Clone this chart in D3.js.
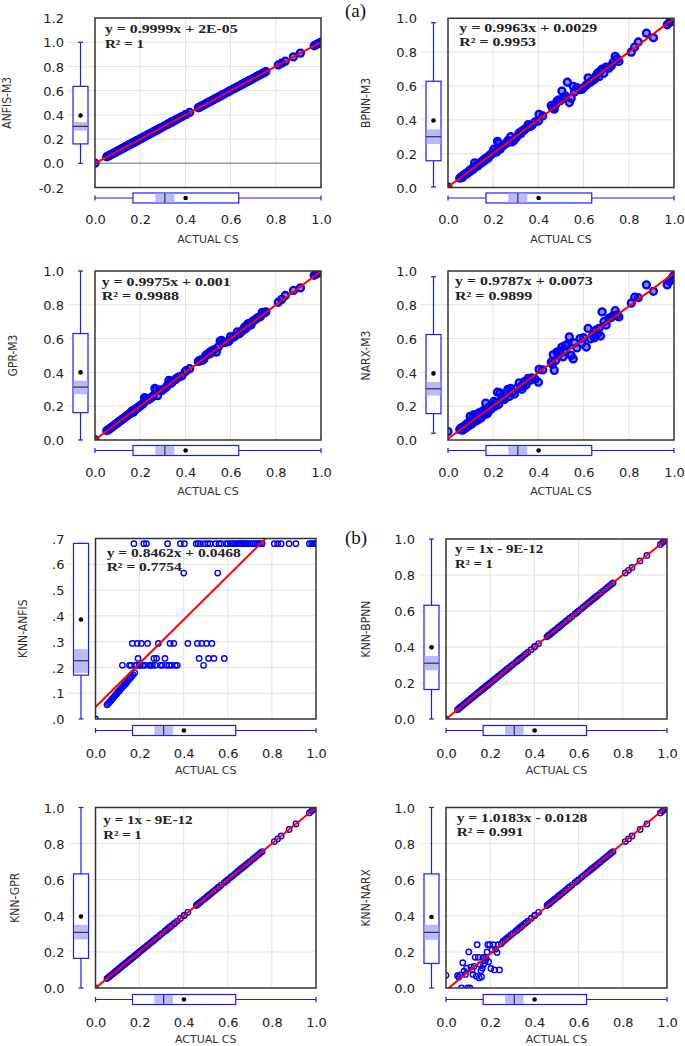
<!DOCTYPE html>
<html><head><meta charset="utf-8">
<script src="https://cdn.jsdelivr.net/npm/d3@7"></script>
<style>body{margin:0;background:#fff}svg{display:block}</style>
</head><body>
<svg id="c" width="685" height="1046"></svg>
<script>
// ---------- DATA ----------
const actualCS = [
0.000,0.052,0.058,0.064,0.070,0.076,0.082,0.088,0.093,0.098,
0.103,0.108,0.113,0.118,0.122,0.127,0.132,0.137,0.141,0.146,
0.150,0.154,0.158,0.161,0.164,0.167,0.170,0.174,0.178,0.182,
0.186,0.189,0.193,0.198,0.203,0.208,0.214,0.219,0.224,0.231,
0.236,0.242,0.250,0.258,0.265,0.271,0.277,0.285,0.294,0.303,
0.315,0.322,0.327,0.334,0.338,0.345,0.355,0.362,0.371,0.385,
0.400,0.403,0.419,0.457,0.462,0.470,0.482,0.490,0.504,0.513,
0.528,0.537,0.554,0.584,0.612,0.640,0.648,0.655,0.662,0.668,
0.675,0.682,0.690,0.700,0.712,0.722,0.731,0.740,0.748,0.756,
0.811,0.826,0.842,0.878,0.909,0.970,0.980,0.988,0.994,1.000,
0.466,0.476,0.495,0.509,0.520,0.545,0.560,0.570,0.592,0.600,0.620,0.630];

const anfisM3 = [
0.001,0.054,0.059,0.065,0.071,0.077,0.083,0.088,0.094,0.099,
0.104,0.109,0.114,0.118,0.123,0.128,0.133,0.138,0.142,0.147,
0.151,0.155,0.159,0.162,0.165,0.168,0.171,0.175,0.179,0.183,
0.187,0.190,0.194,0.199,0.204,0.209,0.215,0.220,0.225,0.232,
0.237,0.243,0.251,0.259,0.266,0.272,0.278,0.286,0.295,0.304,
0.316,0.323,0.328,0.335,0.339,0.346,0.356,0.363,0.372,0.386,
0.401,0.404,0.420,0.458,0.463,0.471,0.483,0.491,0.505,0.514,
0.529,0.538,0.555,0.585,0.613,0.641,0.649,0.656,0.663,0.669,
0.676,0.683,0.691,0.701,0.713,0.723,0.732,0.741,0.749,0.757,
0.812,0.827,0.843,0.879,0.910,0.971,0.981,0.989,0.995,1.000,
0.467,0.477,0.496,0.510,0.521,0.546,0.561,0.571,0.593,0.601,0.621,0.631];

const bpnnM3 = [
0.003,0.055,0.062,0.060,0.074,0.080,0.079,0.092,0.090,0.103,
0.101,0.113,0.110,0.146,0.125,0.131,0.128,0.140,0.145,0.143,
0.154,0.151,0.163,0.166,0.161,0.172,0.168,0.178,0.175,0.186,
0.190,0.195,0.198,0.205,0.226,0.211,0.209,0.273,0.262,0.227,
0.240,0.246,0.254,0.262,0.278,0.268,0.300,0.270,0.283,0.297,
0.322,0.318,0.333,0.337,0.342,0.350,0.372,0.360,0.366,0.388,
0.393,0.432,0.423,0.485,0.472,0.463,0.510,0.518,0.570,0.530,
0.622,0.502,0.598,0.578,0.605,0.632,0.640,0.660,0.676,0.655,
0.690,0.700,0.675,0.712,0.705,0.718,0.740,0.775,0.760,0.745,
0.800,0.830,0.860,0.912,0.885,0.962,0.975,0.982,0.990,0.985,
0.470,0.490,0.512,0.525,0.540,0.528,0.565,0.590,0.580,0.590,0.648,0.622];

const gprM3 = [
0.002,0.056,0.060,0.066,0.071,0.078,0.083,0.089,0.095,0.099,
0.105,0.109,0.114,0.120,0.124,0.128,0.134,0.139,0.142,0.148,
0.152,0.156,0.160,0.163,0.172,0.170,0.165,0.176,0.180,0.184,
0.188,0.192,0.196,0.200,0.205,0.210,0.216,0.250,0.246,0.240,
0.238,0.244,0.252,0.262,0.305,0.300,0.262,0.296,0.292,0.300,
0.312,0.325,0.352,0.340,0.336,0.350,0.357,0.366,0.373,0.380,
0.405,0.410,0.422,0.465,0.470,0.475,0.480,0.500,0.515,0.525,
0.535,0.520,0.585,0.580,0.608,0.630,0.642,0.650,0.668,0.660,
0.685,0.690,0.680,0.705,0.715,0.726,0.730,0.755,0.752,0.758,
0.815,0.832,0.855,0.885,0.900,0.975,0.982,0.992,0.996,0.998,
0.470,0.472,0.505,0.510,0.528,0.550,0.590,0.576,0.585,0.612,0.615,0.640];

const narxM3 = [
0.050,0.062,0.072,0.058,0.081,0.068,0.095,0.080,0.105,0.140,
0.092,0.125,0.148,0.108,0.135,0.152,0.118,0.160,0.142,0.130,
0.168,0.148,0.175,0.150,0.160,0.218,0.172,0.155,0.190,0.176,
0.198,0.180,0.205,0.192,0.228,0.200,0.222,0.283,0.210,0.278,
0.238,0.250,0.240,0.268,0.300,0.258,0.305,0.285,0.272,0.305,
0.338,0.315,0.300,0.330,0.345,0.325,0.365,0.352,0.368,0.360,
0.342,0.418,0.415,0.462,0.448,0.412,0.520,0.505,0.550,0.525,
0.565,0.610,0.480,0.600,0.550,0.618,0.605,0.650,0.630,0.660,
0.615,0.758,0.700,0.680,0.720,0.725,0.735,0.765,0.740,0.728,
0.810,0.845,0.842,0.918,0.880,0.918,0.940,0.952,0.962,0.975,
0.505,0.470,0.528,0.492,0.560,0.500,0.575,0.545,0.572,0.605,0.660,0.598];

const knnAnfis = [
0.000,0.055,0.060,0.066,0.072,0.078,0.084,0.090,0.095,0.100,
0.105,0.110,0.115,0.120,0.208,0.128,0.133,0.138,0.142,0.147,
0.151,0.208,0.159,0.208,0.165,0.293,0.172,0.680,0.179,0.208,
0.208,0.293,0.235,0.208,0.208,0.293,0.208,0.680,0.208,0.680,
0.293,0.208,0.208,0.208,0.235,0.208,0.235,0.293,0.208,0.208,
0.235,0.208,0.680,0.208,0.293,0.208,0.293,0.208,0.208,0.680,
0.566,0.680,0.293,0.680,0.293,0.235,0.293,0.208,0.293,0.235,
0.293,0.235,0.566,0.235,0.680,0.680,0.680,0.680,0.680,0.680,
0.680,0.680,0.680,0.680,0.680,0.680,0.680,0.680,0.680,0.680,
0.680,0.680,0.680,0.680,0.680,0.680,0.680,0.680,0.680,0.680,
0.680,0.680,0.680,0.680,0.680,0.680,0.680,0.680,0.680,0.680,0.680,0.680];

const knnBpnn = [
0.000,0.052,0.058,0.064,0.070,0.076,0.082,0.088,0.093,0.098,
0.103,0.108,0.113,0.118,0.122,0.127,0.132,0.137,0.141,0.146,
0.150,0.154,0.158,0.161,0.164,0.167,0.170,0.174,0.178,0.182,
0.186,0.189,0.193,0.198,0.203,0.208,0.214,0.219,0.224,0.231,
0.236,0.242,0.250,0.258,0.265,0.271,0.277,0.285,0.294,0.303,
0.315,0.322,0.327,0.334,0.338,0.345,0.355,0.362,0.371,0.385,
0.400,0.403,0.419,0.457,0.462,0.470,0.482,0.490,0.504,0.513,
0.528,0.537,0.554,0.584,0.612,0.640,0.648,0.655,0.662,0.668,
0.675,0.682,0.690,0.700,0.712,0.722,0.731,0.740,0.748,0.756,
0.811,0.826,0.842,0.878,0.909,0.970,0.980,0.988,0.994,1.000,
0.466,0.476,0.495,0.509,0.520,0.545,0.560,0.570,0.592,0.600,0.620,0.630];

const knnGpr = [
0.000,0.052,0.058,0.064,0.070,0.076,0.082,0.088,0.093,0.098,
0.103,0.108,0.113,0.118,0.122,0.127,0.132,0.137,0.141,0.146,
0.150,0.154,0.158,0.161,0.164,0.167,0.170,0.174,0.178,0.182,
0.186,0.189,0.193,0.198,0.203,0.208,0.214,0.219,0.224,0.231,
0.236,0.242,0.250,0.258,0.265,0.271,0.277,0.285,0.294,0.303,
0.315,0.322,0.327,0.334,0.338,0.345,0.355,0.362,0.371,0.385,
0.400,0.403,0.419,0.457,0.462,0.470,0.482,0.490,0.504,0.513,
0.528,0.537,0.554,0.584,0.612,0.640,0.648,0.655,0.662,0.668,
0.675,0.682,0.690,0.700,0.712,0.722,0.731,0.740,0.748,0.756,
0.811,0.826,0.842,0.878,0.909,0.970,0.980,0.988,0.994,1.000,
0.466,0.476,0.495,0.509,0.520,0.545,0.560,0.570,0.592,0.600,0.620,0.630];

const knnNarx = [
0.070,0.068,0.060,0.072,0.000,0.140,0.093,0.075,0.110,0.000,
0.200,0.000,0.116,0.100,0.075,0.120,0.170,0.065,0.240,0.170,
0.056,0.130,0.095,0.062,0.110,0.170,0.130,0.170,0.150,0.165,
0.200,0.240,0.145,0.240,0.108,0.210,0.240,0.100,0.215,0.196,
0.240,0.100,0.245,0.258,0.265,0.271,0.277,0.285,0.294,0.303,
0.315,0.322,0.327,0.334,0.338,0.345,0.355,0.362,0.371,0.385,
0.400,0.403,0.419,0.457,0.462,0.470,0.482,0.490,0.504,0.513,
0.528,0.537,0.554,0.584,0.612,0.640,0.648,0.655,0.662,0.668,
0.675,0.682,0.690,0.700,0.712,0.722,0.731,0.740,0.748,0.756,
0.811,0.826,0.842,0.878,0.909,0.970,0.980,0.988,0.994,1.000,
0.466,0.476,0.495,0.509,0.520,0.545,0.560,0.570,0.592,0.600,0.620,0.630];

const modelNames = ["ANFIS-M3","BPNN-M3","GPR-M3","NARX-M3","KNN-ANFIS","KNN-BPNN","KNN-GPR","KNN-NARX"];
const predictions = [anfisM3,bpnnM3,gprM3,narxM3,knnAnfis,knnBpnn,knnGpr,knnNarx];
const slopes = [0.9999,0.9963,0.9975,0.9787,0.8462,1,1,1.0183];
const intercepts = [0.00002,0.0029,0.001,0.0073,0.0468,-9e-12,-9e-12,-0.0128];
const eqLabels = ["y = 0.9999x + 2E-05","y = 0.9963x + 0.0029","y = 0.9975x + 0.001","y = 0.9787x + 0.0073",
  "y = 0.8462x + 0.0468","y = 1x - 9E-12","y = 1x - 9E-12","y = 1.0183x - 0.0128"];
const r2Labels = ["R² = 1","R² = 0.9953","R² = 0.9988","R² = 0.9899","R² = 0.7754","R² = 1","R² = 1","R² = 0.991"];
const xTicks = [0,0.2,0.4,0.6,0.8,1.0];
const xTickLabels = ["0.0","0.2","0.4","0.6","0.8","1.0"];
const yTicksWide = [-0.2,0,0.2,0.4,0.6,0.8,1.0,1.2];
const yTickLabelsWide = ["-0.2","0.0","0.2","0.4","0.6","0.8","1.0","1.2"];
const yTicksUnit = [0,0.2,0.4,0.6,0.8,1.0];
const yTickLabelsUnit = ["0.0","0.2","0.4","0.6","0.8","1.0"];
const yTicksSeven = [0,0.1,0.2,0.3,0.4,0.5,0.6,0.7];
const yTickLabelsSeven = [".0",".1",".2",".3",".4",".5",".6",".7"];
// box stats: [min, q1, median, q3, max, mean, ciLow, ciHigh]
const actualBox = [0,0.168,0.309,0.636,1.0,0.401,0.267,0.351];
const predBoxes = [
  [0,0.160,0.305,0.635,1.0,0.395,0.270,0.340],
  [0.003,0.158,0.300,0.628,0.974,0.396,0.257,0.343],
  [0,0.162,0.313,0.630,1.0,0.400,0.271,0.351],
  [0.040,0.156,0.303,0.624,0.966,0.394,0.263,0.343],
  [0,0.170,0.226,0.681,0.681,0.386,0.179,0.271],
  [0,0.164,0.310,0.632,1.0,0.398,0.271,0.350],
  [0,0.164,0.308,0.632,1.0,0.396,0.269,0.350],
  [0,0.136,0.308,0.632,1.0,0.393,0.267,0.350]];
const panelLabels = ["(a)","(b)"];

// ---------- LAYOUT ----------
const layout = [
 {L:95, R:321,T:18,  B:187.5,ylx:7,    ex:105,  eb:33.3, ew:132.7,rw:39,  top:true},
 {L:448,R:674,T:18.3,B:187.5,ylx:366,  ex:459.3,eb:31.7, ew:138,  rw:76.7,top:true},
 {L:95, R:321,T:271, B:440,  ylx:12.5, ex:101.7,eb:285.7,ew:129,  rw:77.3,top:true},
 {L:448,R:674,T:271, B:440,  ylx:366,  ex:455,  eb:285,  ew:137.7,rw:77.3,top:true},
 {L:95.5,R:316,T:538.5,B:719,ylx:22.5, ex:106.7,eb:556.7,ew:134,  rw:75,  top:false},
 {L:446,R:667,T:539, B:719,  ylx:366,  ex:455,  eb:553.3,ew:88.3, rw:37.7,top:false},
 {L:95.5,R:316,T:807.5,B:988,ylx:14.5, ex:103.3,eb:824,  ew:89.3, rw:38.4,top:false},
 {L:446,R:667,T:807.5,B:988, ylx:366,  ex:456.7,eb:821.7,ew:130.7,rw:66.7,top:false}];

const BLUE = "#1a1aff", CI = "#b9b9fb";
const svg = d3.select("#c");
const defs = svg.append("defs");

modelNames.forEach((name, i) => {
  const lay = layout[i];
  let yTicks = yTicksUnit, yLabels = yTickLabelsUnit, yDom = [0,1];
  if (i === 0) { yTicks = yTicksWide; yLabels = yTickLabelsWide; yDom = [-0.2,1.2]; }
  if (i === 4) { yTicks = yTicksSeven; yLabels = yTickLabelsSeven; yDom = [0,0.7]; }
  const x = d3.scaleLinear().domain([0,1]).range([lay.L, lay.R]);
  const y = d3.scaleLinear().domain(yDom).range([lay.B, lay.T]);
  const g = svg.append("g");
  const boxOff = lay.top ? 10.5 : 11.5;
  const tickOff = lay.top ? 36.5 : 38.5;
  const titleOff = lay.top ? 18.5 : 16;

  // grid
  g.append("g").selectAll("line").data(xTicks.filter(v => v > 0 && v < 1)).join("line")
    .attr("x1", d => x(d)).attr("x2", d => x(d)).attr("y1", lay.T).attr("y2", lay.B)
    .attr("stroke", "#e3e3e3").attr("stroke-width", 1);
  g.append("g").selectAll("line").data(yTicks.filter(v => v > yDom[0] && v < yDom[1] && v !== 0)).join("line")
    .attr("x1", lay.L - 27).attr("x2", lay.R).attr("y1", d => y(d)).attr("y2", d => y(d))
    .attr("stroke", "#e3e3e3").attr("stroke-width", 1);
  if (i === 0) {
    g.append("line").attr("x1", lay.L).attr("x2", lay.R).attr("y1", y(0)).attr("y2", y(0))
      .attr("stroke", "#9a9a9a").attr("stroke-width", 1.6);
  }

  // axes (labels only)
  const ya = d3.axisLeft(y).tickValues(yTicks).tickFormat((d, k) => yLabels[k]).tickSize(0).tickPadding(0);
  const yg = g.append("g").attr("transform", `translate(${lay.L - 31},0)`).call(ya);
  yg.select(".domain").remove();
  yg.attr("font-family", "'DejaVu Sans', Verdana, sans-serif").attr("font-size", 13);
  yg.selectAll("text").attr("fill", "#222").attr("dy", "0.36em");
  const xa = d3.axisBottom(x).tickValues(xTicks).tickFormat((d, k) => xTickLabels[k]).tickSize(0).tickPadding(0);
  const xg = g.append("g").attr("transform", `translate(0,${lay.B + tickOff})`).call(xa);
  xg.select(".domain").remove();
  xg.attr("font-family", "'DejaVu Sans', Verdana, sans-serif").attr("font-size", 13);
  xg.selectAll("text").attr("fill", "#222").attr("y", 0).attr("dy", 0);

  // axis titles
  g.append("text").attr("transform", `translate(${lay.ylx},${(lay.T + lay.B) / 2}) rotate(-90)`)
    .attr("text-anchor", "middle").attr("dy", "0.36em")
    .attr("font-family", "'Liberation Sans Narrow','Arial Narrow','DejaVu Sans Condensed',sans-serif")
    .attr("font-size", 12).attr("fill", "#333").text(name);
  g.append("text").attr("x", (lay.L + lay.R) / 2).attr("y", lay.B + tickOff + titleOff)
    .attr("text-anchor", "middle").attr("font-family", "'DejaVu Sans', Verdana, sans-serif")
    .attr("font-size", 11).attr("fill", "#333").text("ACTUAL CS");

  // vertical box plot (predicted)
  const pb = predBoxes[i];
  const bx0 = lay.L - 22, bx1 = lay.L - 7, bxc = (bx0 + bx1) / 2;
  const vb = g.append("g");
  vb.append("line").attr("x1", bxc).attr("x2", bxc).attr("y1", y(pb[0])).attr("y2", y(pb[1])).attr("stroke", BLUE).attr("stroke-width", 1.2);
  vb.append("line").attr("x1", bxc).attr("x2", bxc).attr("y1", y(pb[3])).attr("y2", y(pb[4])).attr("stroke", BLUE).attr("stroke-width", 1.2);
  [pb[0], pb[4]].forEach(v => vb.append("line").attr("x1", bxc - 2.5).attr("x2", bxc + 2.5).attr("y1", y(v)).attr("y2", y(v)).attr("stroke", BLUE).attr("stroke-width", 1.2));
  vb.append("rect").attr("x", bx0).attr("width", bx1 - bx0).attr("y", y(pb[3])).attr("height", y(pb[1]) - y(pb[3]))
    .attr("fill", "#fff").attr("stroke", BLUE).attr("stroke-width", 1.2);
  vb.append("rect").attr("x", bx0 + 0.6).attr("width", bx1 - bx0 - 1.2).attr("y", y(pb[7])).attr("height", y(pb[6]) - y(pb[7])).attr("fill", CI);
  vb.append("line").attr("x1", bx0).attr("x2", bx1).attr("y1", y(pb[2])).attr("y2", y(pb[2])).attr("stroke", "#333").attr("stroke-width", 1.2);
  vb.append("circle").attr("cx", bxc).attr("cy", y(pb[5])).attr("r", 2.3).attr("fill", "#000");

  // horizontal box plot (actual)
  const ab = actualBox;
  const hyc = lay.B + boxOff, hy0 = hyc - 5, hy1 = hyc + 5;
  const hb = g.append("g");
  hb.append("line").attr("y1", hyc).attr("y2", hyc).attr("x1", x(ab[0])).attr("x2", x(ab[1])).attr("stroke", BLUE).attr("stroke-width", 1.2);
  hb.append("line").attr("y1", hyc).attr("y2", hyc).attr("x1", x(ab[3])).attr("x2", x(ab[4])).attr("stroke", BLUE).attr("stroke-width", 1.2);
  [ab[0], ab[4]].forEach(v => hb.append("line").attr("y1", hyc - 2.5).attr("y2", hyc + 2.5).attr("x1", x(v)).attr("x2", x(v)).attr("stroke", BLUE).attr("stroke-width", 1.2));
  hb.append("rect").attr("y", hy0).attr("height", hy1 - hy0).attr("x", x(ab[1])).attr("width", x(ab[3]) - x(ab[1]))
    .attr("fill", "#fff").attr("stroke", BLUE).attr("stroke-width", 1.2);
  hb.append("rect").attr("y", hy0 + 0.6).attr("height", hy1 - hy0 - 1.2).attr("x", x(ab[6])).attr("width", x(ab[7]) - x(ab[6])).attr("fill", CI);
  hb.append("line").attr("y1", hy0).attr("y2", hy1).attr("x1", x(ab[2])).attr("x2", x(ab[2])).attr("stroke", "#333").attr("stroke-width", 1.2);
  hb.append("circle").attr("cy", hyc).attr("cx", x(ab[5])).attr("r", 2.3).attr("fill", "#000");

  // clip
  const cid = "clip" + i;
  defs.append("clipPath").attr("id", cid).append("rect")
    .attr("x", lay.L).attr("y", lay.T).attr("width", lay.R - lay.L).attr("height", lay.B - lay.T);

  // points
  const pts = actualCS.map((a, k) => [a, predictions[i][k]]);
  g.append("g").attr("clip-path", `url(#${cid})`).selectAll("circle").data(pts).join("circle")
    .attr("cx", d => x(d[0])).attr("cy", d => y(d[1]))
    .attr("r", lay.top ? 3.5 : 2.7)
    .attr("fill", "#0000ff").attr("fill-opacity", lay.top ? 0.45 : 0)
    .attr("stroke", "#0000ff").attr("stroke-width", lay.top ? 2.3 : 1.4);

  // regression line
  const lineGen = d3.line().x(d => x(d)).y(d => y(slopes[i] * d + intercepts[i]));
  g.append("path").attr("clip-path", `url(#${cid})`).datum([0, 1]).attr("d", lineGen)
    .attr("fill", "none").attr("stroke", "#ff0000").attr("stroke-width", 2);

  // frame
  g.append("rect").attr("x", lay.L).attr("y", lay.T).attr("width", lay.R - lay.L).attr("height", lay.B - lay.T)
    .attr("fill", "none").attr("stroke", "#333").attr("stroke-width", 1.5);

  // equation
  const eqg = g.append("g").attr("font-family", "'Liberation Serif','Times New Roman',serif")
    .attr("font-weight", "bold").attr("font-size", 13).attr("fill", "#222");
  eqg.append("text").attr("x", lay.ex).attr("y", lay.eb).attr("textLength", lay.ew)
    .attr("lengthAdjust", "spacingAndGlyphs").text(eqLabels[i]);
  eqg.append("text").attr("x", lay.ex).attr("y", lay.eb + 14.5).attr("textLength", lay.rw)
    .attr("lengthAdjust", "spacingAndGlyphs").text(r2Labels[i]);
});

// (a) / (b)
svg.selectAll("text.pl").data(panelLabels).join("text").attr("class", "pl")
  .attr("x", 345).attr("y", (d, k) => k === 0 ? 16.5 : 543.5)
  .attr("font-family", "'Liberation Serif','Times New Roman',serif").attr("font-size", 19).attr("fill", "#111")
  .text(d => d);
</script>
</body></html>
